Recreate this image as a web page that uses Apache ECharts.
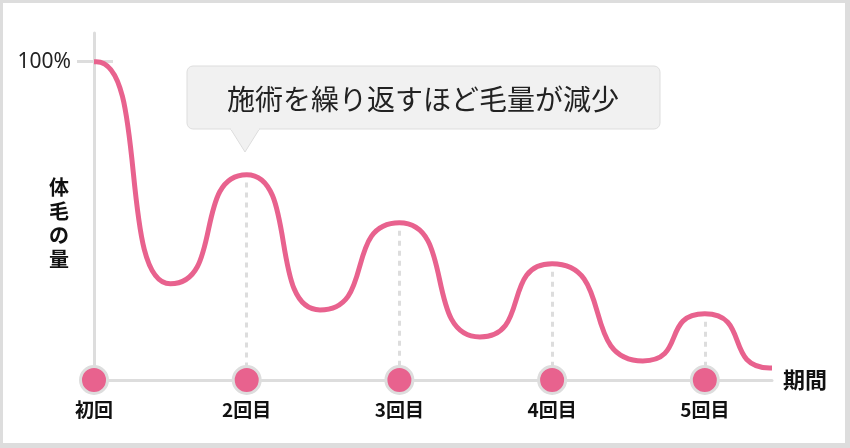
<!DOCTYPE html>
<html>
<head>
<meta charset="utf-8">
<script src="https://cdn.jsdelivr.net/npm/echarts@6/dist/echarts.min.js"></script>
<style>
body{margin:0;background:#fff;}
#wrap{width:850px;height:448px;box-sizing:border-box;border:solid #dddddd;border-width:3px 5px 5px 3px;background:#fff;}
#main{width:842px;height:440px;}
</style>
</head>
<body>
<div id="wrap"><div id="main"></div></div>
<script>
// 施術回数（x軸の目盛り）
var sessions = ['初回', '2回目', '3回目', '4回目', '5回目'];
var sessionPos = [0, 1, 2, 3, 4];

// 体毛の量カーブ：始点・山・谷・終点（x: 施術回数, y: %）
var curveX = [0, 0.015, 0.5, 1.0, 1.48, 2.0, 2.527, 3.0, 3.594, 4.0, 4.425, 4.44];
var curveY = [100, 100, 30.2, 64.5, 22.0, 49.4, 13.5, 36.5, 6.0, 20.8, 3.8, 3.8];

// 各回のピーク（点線の高さ）
var peakX = [1, 2, 3, 4];
var peakY = [64.5, 49.4, 36.5, 20.8];

var yTicks = [100];
var bubbleText = '施術を繰り返すほど毛量が減少';

var chart = echarts.init(document.getElementById('main'));

var curveData = curveX.map(function (x, i) { return [x, curveY[i]]; });
var markerData = sessionPos.map(function (x) { return [x, 0]; });
var dashLines = peakX.map(function (x, i) {
    return [{ coord: [x, peakY[i] - 2.5] }, { coord: [x, 0] }];
});

var pink = '#e8628e';
var gray = '#dddddd';

option = {
    animation: false,
    grid: {
        left: 91,
        right: 73,
        top: 30,
        bottom: 63
    },
    xAxis: {
        type: 'value',
        min: 0,
        max: 4.44,
        interval: 1,
        name: '期間',
        nameLocation: 'end',
        nameGap: 11,
        nameTextStyle: {
            fontFamily: 'Noto Sans CJK JP',
            fontWeight: 'bold',
            fontSize: 22,
            color: '#111',
            verticalAlign: 'middle',
            padding: [10, 0, 0, 0]
        },
        axisLine: { lineStyle: { color: gray, width: 3 } },
        axisTick: { show: false },
        splitLine: { show: false },
        axisLabel: {
            margin: 20,
            fontFamily: 'Noto Sans CJK JP',
            fontWeight: 'bold',
            fontSize: 19,
            color: '#111',
            showMaxLabel: false,
            formatter: function (v) {
                var i = sessionPos.indexOf(v);
                return i < 0 ? '' : sessions[i];
            }
        }
    },
    yAxis: [
        {
            type: 'value',
            min: 0,
            max: 109,
            interval: 100,
            axisLine: { show: true, lineStyle: { color: gray, width: 3 } },
            axisTick: {
                show: true,
                length: 17,
                customValues: yTicks,
                lineStyle: { color: gray, width: 3 }
            },
            splitLine: { show: false },
            axisLabel: {
                margin: 23,
                fontFamily: 'Noto Sans',
                fontSize: 21,
                color: '#222',
                customValues: yTicks,
                formatter: '{value}%'
            }
        },
        {
            type: 'value',
            min: 0,
            max: 109,
            interval: 100,
            position: 'left',
            axisLine: { show: false },
            axisTick: {
                show: true,
                inside: true,
                length: 19,
                customValues: yTicks,
                lineStyle: { color: gray, width: 3 }
            },
            splitLine: { show: false },
            axisLabel: { show: false }
        }
    ],
    graphic: [
        {
            type: 'text',
            left: 46,
            top: 172,
            style: {
                text: '体\n毛\nの\n量',
                font: 'bold 20px "Noto Sans CJK JP"',
                lineHeight: 24,
                fill: '#111',
                align: 'center'
            }
        },
        {
            type: 'group',
            children: [
                {
                    type: 'polygon',
                    shape: { points: [[227, 125], [257, 125], [242, 149]] },
                    style: { fill: '#f1f1f1', stroke: gray, lineWidth: 1 }
                },
                {
                    type: 'rect',
                    shape: { x: 184, y: 63, width: 473, height: 63, r: 6 },
                    style: { fill: '#f1f1f1', stroke: gray, lineWidth: 1 }
                },
                {
                    type: 'rect',
                    shape: { x: 228, y: 124, width: 28, height: 3 },
                    style: { fill: '#f1f1f1' }
                },
                {
                    type: 'text',
                    x: 420,
                    y: 96,
                    style: {
                        text: bubbleText,
                        font: '28px "Noto Sans CJK JP"',
                        fill: '#222',
                        align: 'center',
                        verticalAlign: 'middle'
                    }
                }
            ]
        }
    ],
    series: [
        {
            name: '体毛の量',
            type: 'line',
            data: curveData,
            smooth: 0.7,
            smoothMonotone: 'x',
            showSymbol: false,
            clip: false,
            z: 3,
            lineStyle: { color: pink, width: 5 },
            markLine: {
                silent: true,
                symbol: 'none',
                label: { show: false },
                lineStyle: { color: gray, width: 3, type: [5, 5] },
                data: dashLines
            }
        },
        {
            name: '施術',
            type: 'scatter',
            data: markerData,
            clip: false,
            z: 5,
            symbolSize: 27,
            itemStyle: { color: pink, opacity: 1, borderColor: gray, borderWidth: 3 }
        }
    ]
};

chart.setOption(option);
</script>
</body>
</html>
